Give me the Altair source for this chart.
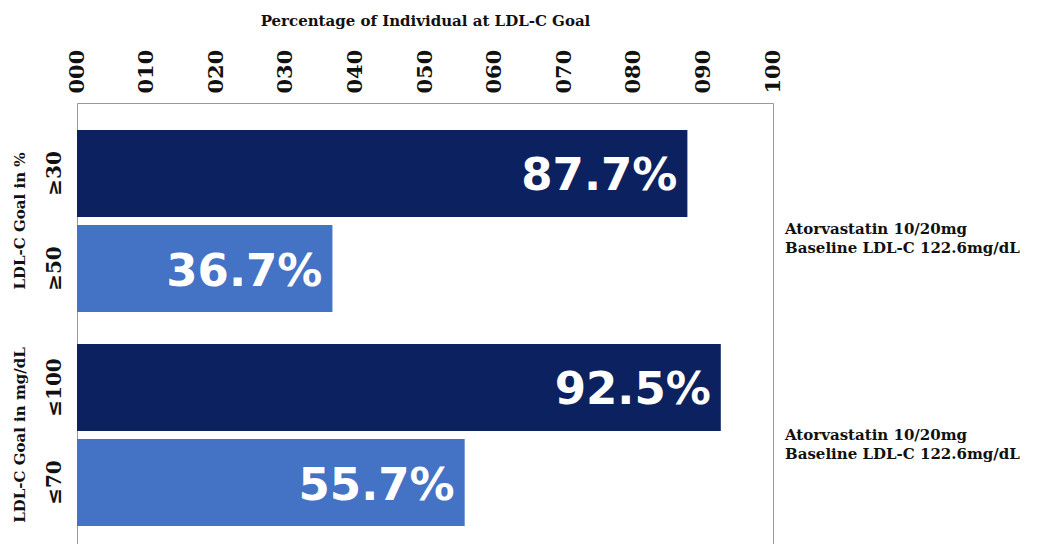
import altair as alt
import pandas as pd

groups = ["LDL-C Goal in %", "LDL-C Goal in %", "LDL-C Goal in mg/dL", "LDL-C Goal in mg/dL"]
subs = ["≥30", "≥50", "≤100", "≤70"]
values = [87.7, 36.7, 92.5, 55.7]
kinds = ["a", "b", "a", "b"]
labels = ["87.7%", "36.7%", "92.5%", "55.7%"]
group_names = ["LDL-C Goal in %", "LDL-C Goal in mg/dL"]
notes = ["Atorvastatin 10/20mg\nBaseline LDL-C 122.6mg/dL",
         "Atorvastatin 10/20mg\nBaseline LDL-C 122.6mg/dL"]
ticks = list(range(0, 101, 10))

df = pd.DataFrame({"group": groups, "sub": subs, "value": values,
                   "kind": kinds, "label": labels})
gdf = pd.DataFrame({"group": group_names, "note": notes})

W, H = 696, 450
SERIF = "DejaVu Serif"

yscale = alt.Scale(domain=group_names, paddingInner=0, paddingOuter=0.0514)
yoff_scale = alt.Scale(domain=["a", "b"], paddingInner=0.084, paddingOuter=0.168)

x = alt.X("value:Q", scale=alt.Scale(domain=[0, 100]),
          axis=alt.Axis(orient="top", values=ticks, format="03d", labelAngle=270,
                        labelAlign="left", labelBaseline="middle",
                        ticks=False, grid=False, domain=False, labelPadding=10,
                        labelFont=SERIF, labelFontWeight="bold", labelFontSize=21,
                        labelColor="#111",
                        title="Percentage of Individual at LDL-C Goal",
                        titleFont=SERIF, titleFontWeight="bold", titleFontSize=15,
                        titleColor="#111", titlePadding=21))
y = alt.Y("group:N", scale=yscale, axis=None, sort=group_names)
yo = alt.YOffset("kind:N", scale=yoff_scale)

base = alt.Chart(df)

bars = base.mark_bar().encode(
    x=x, y=y, yOffset=yo,
    color=alt.Color("kind:N", scale=alt.Scale(domain=["a", "b"], range=["#0c2160", "#4472c4"]),
                    legend=None),
)

vals = base.mark_text(align="right", baseline="middle", dx=-10, dy=3, color="white",
                      font="DejaVu Sans", fontWeight="bold", fontSize=45).encode(
    x="value:Q", y=y, yOffset=yo, text="label:N")

sublab = base.mark_text(angle=270, align="center", baseline="middle", font=SERIF,
                        fontWeight="bold", fontSize=20, color="#111").encode(
    x=alt.value(-22), y=y, yOffset=yo, text="sub:N")

gy = alt.Y("group:N", scale=yscale, axis=None, sort=group_names)

grp = alt.Chart(gdf).mark_text(angle=270, align="center", baseline="middle", font=SERIF,
                               fontWeight="bold", fontSize=15, color="#111").encode(
    x=alt.value(-57), y=gy, text="group:N")

note_style = dict(align="left", baseline="middle", font=SERIF, fontWeight="bold",
                  fontSize=15, color="#111", lineHeight=19)

note1 = alt.Chart(gdf).transform_filter(alt.datum.group == group_names[0]).mark_text(
    dy=8, **note_style).encode(x=alt.value(W + 12), y=gy, text="note:N")
note2 = alt.Chart(gdf).transform_filter(alt.datum.group == group_names[1]).mark_text(
    dy=0, **note_style).encode(x=alt.value(W + 12), y=gy, text="note:N")

chart = alt.layer(bars, vals, sublab, grp, note1, note2).properties(
    width=W, height=H,
    autosize=alt.AutoSizeParams(type="none"),
    padding={"left": 69, "top": 95, "right": 262, "bottom": 0},
).configure_view(stroke="#999", strokeWidth=1).configure_text(lineBreak="\n")

chart.save("out.html", embed_options={"renderer": "svg", "actions": False})
